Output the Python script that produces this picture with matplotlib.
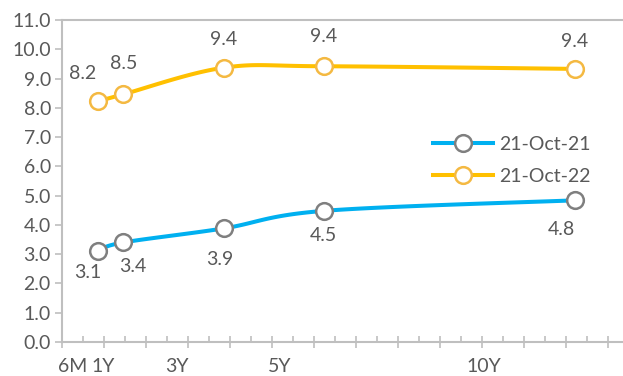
import numpy as np
import matplotlib.pyplot as plt
from matplotlib.lines import Line2D

# tenor in years and yields (%)
tenor = [0.5, 1, 3, 5, 10]
tenor_labels = ["6M", "1Y", "3Y", "5Y", "10Y"]
label_pos = [0.0, 0.6, 2.07, 4.12, 8.18]
y_2021 = [3.12, 3.4, 3.88, 4.48, 4.84]
y_2022 = [8.22, 8.46, 9.37, 9.42, 9.33]
lab_2021 = ["3.1", "3.4", "3.9", "4.5", "4.8"]
lab_2022 = ["8.2", "8.5", "9.4", "9.4", "9.4"]

BLUE = "#00B0F0"
GOLD = "#FFC000"
TXT = "#595959"
AX = "#BFBFBF"
FS = 14

plt.rcParams['font.family'] = ['Lato', 'DejaVu Sans']


def smooth(x, y, n=30):
    # bezier smoothing similar to a spreadsheet "smoothed line"
    x = np.asarray(x, float)
    y = np.asarray(y, float)
    px = np.concatenate([[x[0]], x, [x[-1]]])
    py = np.concatenate([[y[0]], y, [y[-1]]])
    xs, ys = [], []
    t = np.linspace(0, 1, n)
    for i in range(1, len(px) - 2):
        p0 = np.array([px[i], py[i]])
        p3 = np.array([px[i + 1], py[i + 1]])
        p1 = p0 + (np.array([px[i + 1], py[i + 1]]) - np.array([px[i - 1], py[i - 1]])) / 6
        p2 = p3 - (np.array([px[i + 2], py[i + 2]]) - np.array([px[i], py[i]])) / 6
        b = ((1 - t) ** 3)[:, None] * p0 + (3 * (1 - t) ** 2 * t)[:, None] * p1 \
            + (3 * (1 - t) * t ** 2)[:, None] * p2 + (t ** 3)[:, None] * p3
        xs.extend(b[:, 0])
        ys.extend(b[:, 1])
    return xs, ys


fig = plt.figure(figsize=(6.23, 3.76), dpi=100)
ax = fig.add_axes([0.0995, 0.0904, 0.9005, 0.8564])

for yv, col, edge in [(y_2021, BLUE, "#7F7F7F"), (y_2022, GOLD, "#F4B942")]:
    sx, sy = smooth(tenor, yv)
    ax.plot(sx, sy, color=col, lw=2.9, solid_capstyle="butt", zorder=2)
    ax.plot(tenor, yv, ls="none", marker="o", ms=12, mfc="white",
            mec=edge, mew=1.8, zorder=3)

off_2022 = [(-15, 28), (0, 31), (0, 28), (0, 30), (0, 27)]
off_2021 = [(-10, -22), (10, -24), (-4, -31), (-1, -25), (-13, -29)]
for x, y, s, o in zip(tenor, y_2022, lab_2022, off_2022):
    ax.annotate(s, (x, y), xytext=o, textcoords="offset pixels",
                ha="center", va="center", fontsize=FS, color=TXT)
for x, y, s, o in zip(tenor, y_2021, lab_2021, off_2021):
    ax.annotate(s, (x, y), xytext=o, textcoords="offset pixels",
                ha="center", va="center", fontsize=FS, color=TXT)

ax.set_ylim(0, 11)
ax.set_yticks(np.arange(0, 11.5, 1))
ax.set_yticklabels([f"{v:.1f}" for v in np.arange(0, 11.5, 1)])
ax.set_xlim(-0.22, 10.96)
ax.set_xticks(np.arange(-0.22, 11, 0.837))
ax.set_xticks(np.arange(-0.22, 11, 0.4185), minor=True)
ax.set_xticklabels([])
ax.tick_params(axis="x", which="major", direction="inout", length=9,
               color=AX, width=1.2)
ax.tick_params(axis="x", which="minor", direction="in", length=4,
               color=AX, width=1.2)
ax.tick_params(axis="y", direction="out", length=5, color=AX, width=1.2,
               labelsize=FS, labelcolor=TXT, pad=3)

for x, s in zip(label_pos, tenor_labels):
    ax.text(x, -0.075, s, transform=ax.get_xaxis_transform(), ha="center",
            va="center", fontsize=FS, color=TXT)

for side in ["left", "bottom", "top"]:
    ax.spines[side].set_color(AX)
    ax.spines[side].set_linewidth(1.5)
ax.spines["right"].set_visible(False)

handles = [
    Line2D([], [], color=BLUE, lw=2.9, marker="o", ms=12, mfc="white",
           mec="#7F7F7F", mew=1.8),
    Line2D([], [], color=GOLD, lw=2.9, marker="o", ms=12, mfc="white",
           mec="#F4B942", mew=1.8),
]
ax.legend(handles, ["21-Oct-21", "21-Oct-22"], loc="center left",
          bbox_to_anchor=(0.647, 0.564), frameon=False, fontsize=FS,
          labelcolor=TXT, handlelength=3.1, handletextpad=0.3,
          labelspacing=0.8, borderaxespad=0)

fig.savefig("out.png", dpi=100)
